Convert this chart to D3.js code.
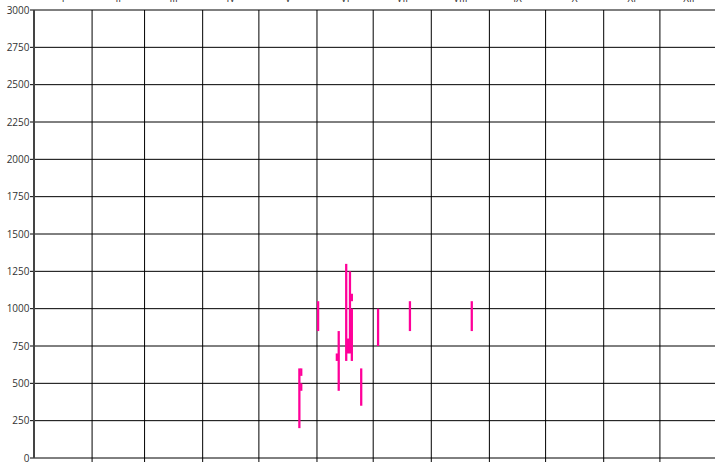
<!DOCTYPE html>
<html><head><meta charset="utf-8">
<script src="https://cdn.jsdelivr.net/npm/d3@7"></script>
<style>
html,body{margin:0;padding:0;background:#fff;overflow:hidden}
svg{display:block}
text{font-family:"Open Sans",sans-serif}
</style></head>
<body>
<script>
// Month labels (top axis)
const months = ["I","II","III","IV","V","VI","VII","VIII","IX","X","XI","XII"];
// Y tick values
const yTicks = [0,250,500,750,1000,1250,1500,1750,2000,2250,2500,2750,3000];
// Observation ranges: dates (month-day), low and high values
const dates = ["05-22","05-23","05-23","06-01","06-11","06-12","06-16","06-17","06-18","06-19","06-19","06-24","07-03","07-20","08-22"];
const lows  = [200, 550, 450, 850, 650, 450, 650, 700, 700, 650, 1050, 350, 750, 850, 850];
const highs = [600, 600, 500, 1050, 700, 850, 1300, 800, 1250, 1000, 1100, 600, 1000, 1050, 1050];

const W = 715, H = 466;
const YEAR = 2001;
const parse = d3.timeParse("%Y-%m-%d");
const margin = {left: 34, top: 10, bottom: 8};
const xEnd = 718;

const svg = d3.select("body").append("svg").attr("width", W).attr("height", H);

const x = d3.scaleTime()
  .domain([new Date(YEAR,0,1), new Date(YEAR+1,0,1)])
  .range([margin.left, xEnd]);
const y = d3.scaleLinear().domain([0,3000]).range([H - margin.bottom, margin.top]);

const monthStarts = d3.timeMonth.range(new Date(YEAR,0,1), new Date(YEAR+1,0,2));

// horizontal grid lines (extend left as ticks)
svg.append("g").selectAll("line").data(yTicks).join("line")
  .attr("x1", margin.left - 4).attr("x2", xEnd)
  .attr("y1", d => y(d)).attr("y2", d => y(d))
  .attr("stroke", "#000").attr("stroke-width", 1);

// vertical month grid lines (extend below as ticks)
svg.append("g").selectAll("line").data(monthStarts.slice(1)).join("line")
  .attr("x1", d => x(d)).attr("x2", d => x(d))
  .attr("y1", y(3000)).attr("y2", y(0) + 4)
  .attr("stroke", "#000").attr("stroke-width", 1);

// left axis line
svg.append("line")
  .attr("x1", margin.left).attr("x2", margin.left)
  .attr("y1", y(3000)).attr("y2", y(0))
  .attr("stroke", "#444").attr("stroke-width", 2);

// y tick labels
svg.append("g").selectAll("text").data(yTicks).join("text")
  .attr("x", margin.left - 4.5).attr("y", d => y(d))
  .attr("dy", "0.35em").attr("text-anchor", "end")
  .attr("font-size", 10).attr("fill", "#333")
  .text(d => d);

// month labels at top (mostly clipped)
svg.append("g").selectAll("text").data(months).join("text")
  .attr("x", (d,i) => (x(monthStarts[i]) + x(monthStarts[i+1])) / 2)
  .attr("y", 2).attr("text-anchor", "middle")
  .attr("font-size", 10).attr("fill", "#333")
  .text(d => d);

// range bars
const bars = dates.map((d,i) => ({date: parse(YEAR + "-" + d), lo: lows[i], hi: highs[i]}));
svg.append("g").selectAll("rect").data(bars).join("rect")
  .attr("x", d => x(d.date))
  .attr("width", d => x(d3.timeDay.offset(d.date, 1)) - x(d.date) + 0.4)
  .attr("y", d => y(d.hi))
  .attr("height", d => y(d.lo) - y(d.hi))
  .attr("fill", "#ff0099");
</script>
</body></html>
